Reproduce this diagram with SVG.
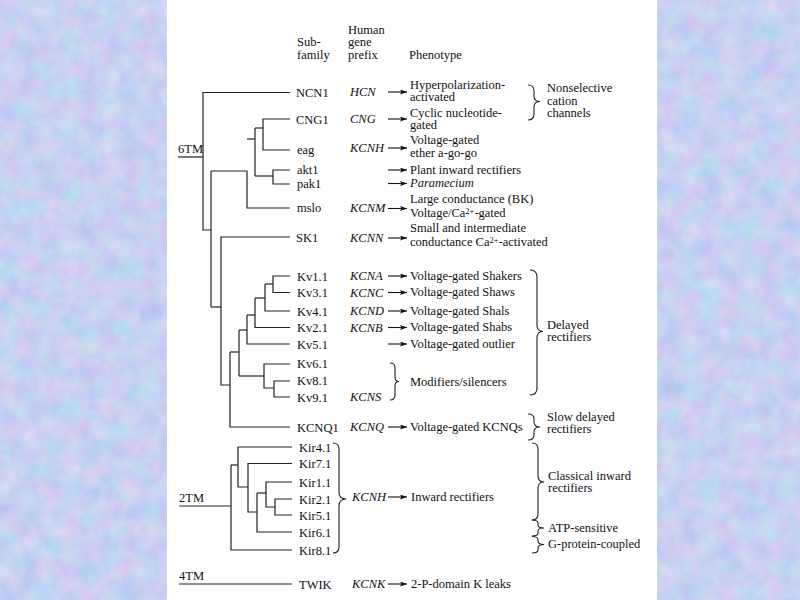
<svg xmlns="http://www.w3.org/2000/svg" width="800" height="600" viewBox="0 0 800 600">
<defs>
<filter id="marble" x="0" y="0" width="100%" height="100%" color-interpolation-filters="sRGB">
<feTurbulence type="fractalNoise" baseFrequency="0.05" numOctaves="3" seed="7"/>
<feColorMatrix type="matrix" values="0.24 0 0 0 0.66  0 0.16 0 0 0.74  0 0 0.06 0 0.92  0 0 0 0 1"/>
</filter>
<marker id="ah" markerUnits="userSpaceOnUse" markerWidth="8" markerHeight="6" refX="7" refY="2.5" orient="auto">
<path d="M0,0 L7,2.5 L0,5 L1.5,2.5 z" fill="#111"/>
</marker>
<style>
text{font-family:"Liberation Serif","Times New Roman",serif;font-size:12.5px;fill:#111}
.it{font-style:italic}
.tree path{stroke:#222;stroke-width:1.2;fill:none}
.arr line{stroke:#111;stroke-width:1.1;marker-end:url(#ah)}
.br{stroke:#222;stroke-width:1.1;fill:none}
.sup{font-size:8.5px}
</style>
</defs>
<rect x="0" y="0" width="800" height="600" fill="#c8d4f2"/>
<rect x="0" y="0" width="167" height="600" filter="url(#marble)"/>
<rect x="657" y="0" width="143" height="600" filter="url(#marble)"/>
<rect x="167" y="0" width="490" height="600" fill="#ffffff"/>

<g id="headers">
<text x="297" y="46">Sub-</text>
<text x="297" y="58.5">family</text>
<text x="348" y="33.5">Human</text>
<text x="348" y="46">gene</text>
<text x="348" y="58.5">prefix</text>
<text x="409" y="58.5">Phenotype</text>
</g>

<g id="connectors" class="tree">
<!-- 6TM -->
<path d="M178,157 H203"/>
<path d="M290,92.5 H203 V230 H211"/>
<path d="M211,171 V307"/>
<path d="M211,171 H247 V208 H290"/>
<path d="M247,139 H255"/>
<path d="M255,128 V176"/>
<path d="M255,128 H263"/>
<path d="M290,119 H263 V150 H290"/>
<path d="M255,176 H273"/>
<path d="M290,170 H273 V184 H290"/>
<path d="M211,307 H221"/>
<path d="M290,237 H221 V385 H230"/>
<path d="M230,352 V427 H290"/>
<path d="M230,352 H239"/>
<path d="M239,330 V376"/>
<path d="M239,330 H247"/>
<path d="M247,315 V344 H290"/>
<path d="M247,315 H255"/>
<path d="M255,298 V327.5 H290"/>
<path d="M255,298 H265"/>
<path d="M265,284 V311 H290"/>
<path d="M265,284 H273"/>
<path d="M290,276 H273 V292.5 H290"/>
<path d="M239,376 H264"/>
<path d="M290,364 H264 V388 H274"/>
<path d="M290,381 H274 V397 H290"/>
<!-- 2TM -->
<path d="M179,506 H231"/>
<path d="M231,465 V550 H292"/>
<path d="M231,465 H238"/>
<path d="M292,447 H238 V487 H248"/>
<path d="M292,463.5 H248 V512 H257"/>
<path d="M257,493 V532 H292"/>
<path d="M257,493 H266"/>
<path d="M292,482 H266 V507 H275"/>
<path d="M292,499 H275 V515 H292"/>
<!-- 4TM -->
<path d="M179,584 H292"/>
</g>

<g id="arrows" class="arr">
<line x1="388" y1="92" x2="407" y2="92"/>
<line x1="388" y1="119" x2="407" y2="119"/>
<line x1="388" y1="148" x2="407" y2="148"/>
<line x1="388" y1="170" x2="407" y2="170"/>
<line x1="388" y1="183.5" x2="407" y2="183.5"/>
<line x1="388" y1="208.5" x2="407" y2="208.5"/>
<line x1="388" y1="238" x2="407" y2="238"/>
<line x1="388" y1="276" x2="407" y2="276"/>
<line x1="388" y1="292.5" x2="407" y2="292.5"/>
<line x1="388" y1="311" x2="407" y2="311"/>
<line x1="388" y1="327.5" x2="407" y2="327.5"/>
<line x1="388" y1="344" x2="407" y2="344"/>
<line x1="388" y1="427" x2="407" y2="427"/>
<line x1="388" y1="497" x2="407" y2="497"/>
<line x1="388" y1="584" x2="407" y2="584"/>
</g>

<g id="clade-labels">
<text x="178" y="153">6TM</text>
<text x="179" y="502">2TM</text>
<text x="179" y="580">4TM</text>
</g>

<g id="NCN1"><text x="296" y="97">NCN1</text><text class="it" x="350" y="96">HCN</text><text x="410" y="88.5">Hyperpolarization-</text><text x="410" y="101">activated</text></g>
<g id="CNG1"><text x="296" y="123.5">CNG1</text><text class="it" x="350" y="123">CNG</text><text x="410" y="116.5">Cyclic nucleotide-</text><text x="410" y="129">gated</text></g>
<g id="eag"><text x="297" y="153.5">eag</text><text class="it" x="350" y="152">KCNH</text><text x="410" y="143.5">Voltage-gated</text><text x="410" y="156.5">ether a-go-go</text></g>
<g id="akt1"><text x="297" y="174">akt1</text><text x="410" y="173.5">Plant inward rectifiers</text></g>
<g id="pak1"><text x="297" y="188">pak1</text><text class="it" x="410" y="187">Paramecium</text></g>
<g id="mslo"><text x="297" y="211.5">mslo</text><text class="it" x="350" y="212">KCNM</text><text x="410" y="203">Large conductance (BK)</text><text x="410" y="217">Voltage/Ca<tspan class="sup" dy="-3.5">2+</tspan><tspan dy="3.5">-gated</tspan></text></g>
<g id="SK1"><text x="296" y="241.5">SK1</text><text class="it" x="350" y="242">KCNN</text><text x="410" y="232">Small and intermediate</text><text x="410" y="246">conductance Ca<tspan class="sup" dy="-3.5">2+</tspan><tspan dy="3.5">-activated</tspan></text></g>
<g id="Kv1.1"><text x="297" y="280.5">Kv1.1</text><text class="it" x="350" y="280">KCNA</text><text x="410" y="279.5">Voltage-gated Shakers</text></g>
<g id="Kv3.1"><text x="297" y="297">Kv3.1</text><text class="it" x="350" y="296.5">KCNC</text><text x="410" y="296">Voltage-gated Shaws</text></g>
<g id="Kv4.1"><text x="297" y="315.5">Kv4.1</text><text class="it" x="350" y="315">KCND</text><text x="410" y="314.5">Voltage-gated Shals</text></g>
<g id="Kv2.1"><text x="297" y="332">Kv2.1</text><text class="it" x="350" y="331.5">KCNB</text><text x="410" y="331">Voltage-gated Shabs</text></g>
<g id="Kv5.1"><text x="297" y="348.5">Kv5.1</text><text x="410" y="347.5">Voltage-gated outlier</text></g>
<g id="Kv6.1"><text x="297" y="368">Kv6.1</text></g>
<g id="Kv8.1"><text x="297" y="385">Kv8.1</text></g>
<g id="Kv9.1"><text x="297" y="401.5">Kv9.1</text><text class="it" x="350" y="401">KCNS</text></g>
<g id="modifiers"><path class="br" d="M390,363 Q395,363 395,368 V377 Q395,381.5 399,381.5 Q395,381.5 395,386 V395 Q395,400 390,400"/><text x="410" y="385.5">Modifiers/silencers</text></g>
<g id="KCNQ1"><text x="297" y="431.5">KCNQ1</text><text class="it" x="350" y="431">KCNQ</text><text x="410" y="431">Voltage-gated KCNQs</text></g>
<g id="Kir4.1"><text x="299" y="451.5">Kir4.1</text></g>
<g id="Kir7.1"><text x="299" y="468">Kir7.1</text></g>
<g id="Kir1.1"><text x="299" y="486.5">Kir1.1</text></g>
<g id="Kir2.1"><text x="299" y="503.5">Kir2.1</text></g>
<g id="Kir5.1"><text x="299" y="519.5">Kir5.1</text></g>
<g id="Kir6.1"><text x="299" y="536.5">Kir6.1</text></g>
<g id="Kir8.1"><text x="299" y="554.5">Kir8.1</text></g>
<g id="Kir-group"><path class="br" d="M333,443 Q339,443 339,449 V492 Q339,499 346,499 Q339,499 339,506 V547 Q339,553 333,553"/><text class="it" x="352" y="501">KCNH</text><text x="411" y="501">Inward rectifiers</text></g>
<g id="TWIK"><text x="299" y="588.5">TWIK</text><text class="it" x="352" y="588">KCNK</text><text x="411" y="588">2-P-domain K leaks</text></g>

<g id="nonselective"><path class="br" d="M528,85 Q534,85 534,91 V96 Q534,101.5 540,101.5 Q534,101.5 534,107 V114 Q534,120 528,120"/><text x="547" y="92">Nonselective</text><text x="547" y="104.5">cation</text><text x="547" y="117">channels</text></g>
<g id="delayed"><path class="br" d="M530,270 Q537,270 537,277 V325 Q537,331.5 543,331.5 Q537,331.5 537,338 V388 Q537,395 530,395"/><text x="547" y="328.5">Delayed</text><text x="547" y="341">rectifiers</text></g>
<g id="slow-delayed"><path class="br" d="M528,414 Q534,414 534,419 V422 Q534,427 540,427 Q534,427 534,432 V435 Q534,440 528,440"/><text x="547" y="420.5">Slow delayed</text><text x="547" y="433">rectifiers</text></g>
<g id="classical"><path class="br" d="M532,443 Q538,443 538,449 V476 Q538,482 544,482 Q538,482 538,488 V514 Q538,520 532,520"/><text x="548" y="479.5">Classical inward</text><text x="548" y="492">rectifiers</text></g>
<g id="atp"><path class="br" d="M532,520 Q538,520 538,523 V525 Q538,528 544,528 Q538,528 538,531 V533 Q538,536 532,536"/><text x="548" y="532">ATP-sensitive</text></g>
<g id="gprotein"><path class="br" d="M532,536.5 Q538,536.5 538,539.5 V541 Q538,544.5 544,544.5 Q538,544.5 538,548 V550 Q538,553 532,553"/><text x="548" y="548">G-protein-coupled</text></g>
</svg>
